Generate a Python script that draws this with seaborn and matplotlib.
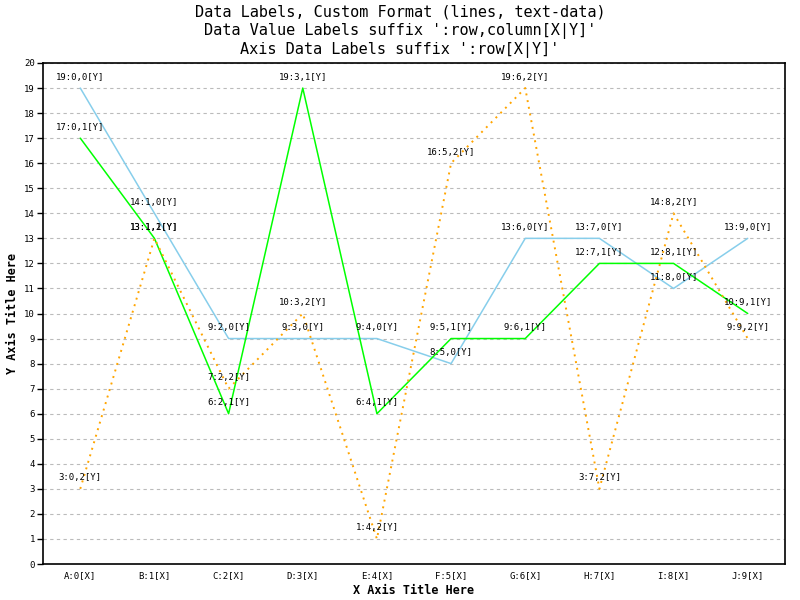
"""
Line chart with custom data labels
"""

import pandas as pd
import matplotlib.pyplot as plt
import seaborn as sns

# Datos
categorias = ['A', 'B', 'C', 'D', 'E', 'F', 'G', 'H', 'I', 'J']
serie_0 = [19, 14, 9, 9, 9, 8, 13, 13, 11, 13]
serie_1 = [17, 13, 6, 19, 6, 9, 9, 12, 12, 10]
serie_2 = [3, 13, 7, 10, 1, 16, 19, 3, 14, 9]
series = [serie_0, serie_1, serie_2]
colores = ['skyblue', 'lime', 'orange']
estilos = ['-', '-', (0, (1, 2.5))]

sns.set_style("white")
plt.rcParams['font.family'] = ['DejaVu Sans Mono']
plt.rcParams['text.color'] = 'black'
plt.rcParams['axes.labelcolor'] = 'black'
plt.rcParams['xtick.color'] = 'black'
plt.rcParams['ytick.color'] = 'black'

filas = []
for s, valores in enumerate(series):
    for i, v in enumerate(valores):
        filas.append({'x': i, 'y': v, 'serie': s})
df = pd.DataFrame(filas)

fig = plt.figure(figsize=(8, 6), dpi=100)
ax = fig.add_axes([0.054, 0.06, 0.927, 0.835])

for s in range(len(series)):
    sub = df[df['serie'] == s]
    sns.lineplot(data=sub, x='x', y='y', ax=ax, color=colores[s],
                 linestyle=estilos[s], linewidth=1.1 if s < 2 else 1.4,
                 estimator=None, legend=False)
    for _, fila in sub.iterrows():
        ax.annotate(f"{int(fila['y'])}:{int(fila['x'])},{s}[Y]",
                    (fila['x'], fila['y']), xytext=(0, 11),
                    textcoords='offset pixels', ha='center', va='center',
                    fontsize=6.5, color='black')

ax.set_xlim(-0.5, 9.5)
ax.set_ylim(0, 20)
ax.set_yticks(range(0, 21))
ax.set_xticks(range(10))
ax.set_xticklabels([f'{c}:{i}[X]' for i, c in enumerate(categorias)], fontsize=6.5)
ax.tick_params(axis='y', labelsize=6.5, length=4, width=1, direction='out',
               left=True, pad=2)
ax.tick_params(axis='x', length=0, pad=5)
for y in range(1, 21):
    ax.axhline(y, color='#bbbbbb', linestyle=(0, (3, 3)), linewidth=0.8, zorder=0)

for lado in ['top', 'right', 'left', 'bottom']:
    ax.spines[lado].set_color('black')
    ax.spines[lado].set_linewidth(1.2)

ax.set_xlabel('X Axis Title Here', fontsize=8.5, fontweight='bold', labelpad=3)
ax.set_ylabel('Y Axis Title Here', fontsize=8.5, fontweight='bold', labelpad=4)

fig.suptitle("Data Labels, Custom Format (lines, text-data)\n"
             "Data Value Labels suffix ':row,column[X|Y]'\n"
             "Axis Data Labels suffix ':row[X|Y]'",
             fontsize=11, y=0.992, linespacing=1.25)

plt.savefig('out.png', dpi=100)
plt.close()
